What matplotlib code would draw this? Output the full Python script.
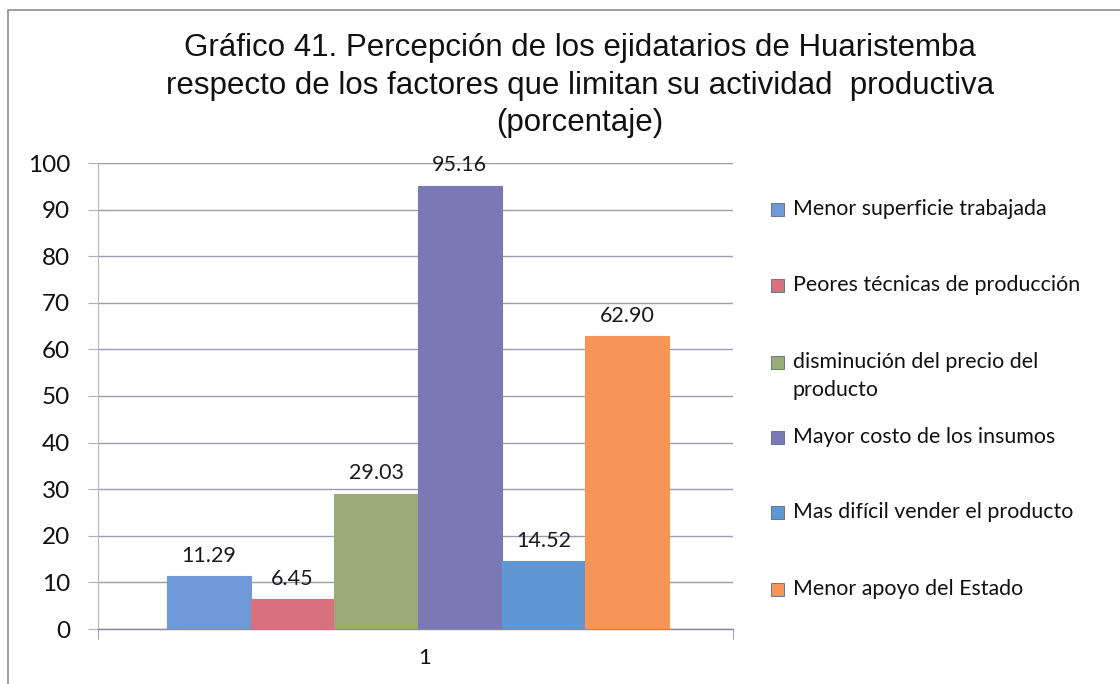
import matplotlib
matplotlib.use("Agg")
import matplotlib.pyplot as plt
from matplotlib.patches import Rectangle

# Data
series_names = [
    "Menor superficie trabajada",
    "Peores técnicas de producción",
    "disminución del precio del\nproducto",
    "Mayor costo de los insumos",
    "Mas difícil vender el producto",
    "Menor apoyo del Estado",
]
values = [11.29, 6.45, 29.03, 95.16, 14.52, 62.90]
colors = ["#6E99D6", "#D9707E", "#9BAB77", "#7A79B6", "#5E97D4", "#F79556"]
category_labels = ["1"]
y_ticks = list(range(0, 101, 10))

title = ("Gráfico 41. Percepción de los ejidatarios de Huaristemba\n"
         "respecto de los factores que limitan su actividad  productiva\n"
         "(porcentaje)")

fig = plt.figure(figsize=(11.2, 6.84), dpi=100)
fig.patch.set_facecolor("white")

# chart frame
fig.add_artist(Rectangle((8 / 1120, -0.05), 1.2, (684 - 10) / 684 + 0.05,
                         transform=fig.transFigure, fill=False,
                         edgecolor="#8E8E9A", lw=1.2))

ax = fig.add_axes([98 / 1120, 1 - 629 / 684, (733 - 98) / 1120, (629 - 163) / 684])

n = len(values)
group_width = 0.79
bw = group_width / n
x0 = -group_width / 2 + bw / 2 + 0.004
for i, (v, c) in enumerate(zip(values, colors)):
    x = x0 + i * bw
    ax.bar(x, v, width=bw, color=c, edgecolor=c, linewidth=0.8, zorder=3)
    ax.text(x, v + 2.2, f"{v:.2f}", ha="center", va="bottom",
            fontsize=15.5, family="Lato", color="#1A1A1A", zorder=4)

ax.set_xlim(-0.5, 0.5)
ax.set_ylim(0, 100)
ax.set_yticks(y_ticks)
ax.set_yticklabels([str(t) for t in y_ticks], fontsize=17.5, family="Lato", color="#111111")
ax.set_xticks([0.015])
ax.set_xticklabels(category_labels, fontsize=16, family="Lato", color="#111111")
ax.tick_params(axis="x", length=0, pad=14)
ax.set_xticks([-0.5, 0.5], minor=True)
ax.tick_params(axis="x", which="minor", length=7, color="#8A8A9A", direction="out")
ax.tick_params(axis="y", length=7, color="#B0B0C4", direction="out", pad=13)

ax.grid(axis="y", color="#9C9CB0", lw=1.0, zorder=0)
for s in ["top", "right"]:
    ax.spines[s].set_visible(False)
ax.spines["left"].set_color("#B8B8C8")
ax.spines["bottom"].set_color("#8A8A9A")
ax.spines["left"].set_linewidth(0.9)
ax.spines["bottom"].set_linewidth(1.0)

fig.text(580 / 1120, 1 - 33 / 684, title, ha="center", va="top",
         fontsize=22.5, family="Liberation Sans", color="#111111", linespacing=1.33)

# legend
legend_y = [209, 285, 376, 437, 512, 589]
marker_y = [209, 285, 362, 437, 512, 589]
for name, c, ty, my in zip(series_names, colors, legend_y, marker_y):
    fig.add_artist(Rectangle((771 / 1120, 1 - (my + 6.5) / 684), 13 / 1120, 13 / 684,
                             transform=fig.transFigure, facecolor=c,
                             edgecolor="#5A6A8A", lw=0.6))
    fig.text(793 / 1120, 1 - ty / 684, name, ha="left", va="center",
             fontsize=15.4, family="Lato", color="#111111", linespacing=1.45)

fig.savefig("out.png", dpi=100)
